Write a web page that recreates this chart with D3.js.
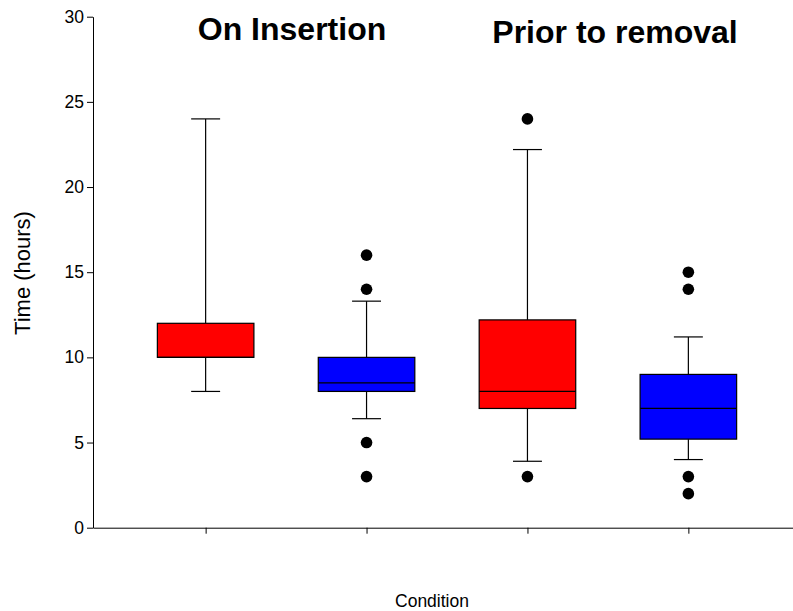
<!DOCTYPE html>
<html>
<head>
<meta charset="utf-8">
<script src="https://cdn.jsdelivr.net/npm/d3@7"></script>
<style>
  body { margin: 0; background: #fff; }
  svg { display: block; font-family: "Liberation Sans", Arial, sans-serif; }
</style>
</head>
<body>
<svg id="chart" width="793" height="611"></svg>
<script>
// ---- data ----
const categories = ["Insertion-red", "Insertion-blue", "Removal-red", "Removal-blue"];
const positions = [1, 2, 3, 4];
const q1 = [10, 8, 7, 5.2];
const medians = [10, 8.5, 8, 7];
const q3 = [12, 10, 12.2, 9];
const whiskerLow = [8, 6.4, 3.9, 4];
const whiskerHigh = [24, 13.3, 22.2, 11.2];
const outliers = [[], [16, 14, 5, 3], [24, 3], [15, 14, 3, 2]];
const colors = ["#ff0000", "#0000ff", "#ff0000", "#0000ff"];
const yTicks = [0, 5, 10, 15, 20, 25, 30];
const groupTitles = ["On Insertion", "Prior to removal"];

// ---- scales ----
const svg = d3.select("#chart");
const x = d3.scaleLinear().domain([0.3, 4.7]).range([93, 801]);
const y = d3.scaleLinear().domain([0, 30]).range([527.7, 16.7]);
const boxW = x(0.6) - x(0);
const capW = x(0.18) - x(0);

// axes
const yAxis = d3.axisLeft(y).tickValues(yTicks).tickSize(6).tickPadding(3).tickSizeOuter(0);
const gy = svg.append("g").attr("transform", "translate(93,0)").call(yAxis);
gy.selectAll("text").attr("font-size", 17.5).attr("fill", "#000").attr("font-family", "Liberation Sans, Arial, sans-serif");
gy.selectAll("line,path").attr("stroke", "#000");

const xAxis = d3.axisBottom(x).tickValues(positions).tickFormat("").tickSize(6).tickSizeOuter(0);
const gx = svg.append("g").attr("transform", "translate(0,527.7)").call(xAxis);
gx.selectAll("line,path").attr("stroke", "#000");

// boxes
const data = categories.map((c, i) => ({
  c, pos: positions[i], q1: q1[i], med: medians[i], q3: q3[i],
  lo: whiskerLow[i], hi: whiskerHigh[i], out: outliers[i], color: colors[i]
}));

const g = svg.append("g");
data.forEach(d => {
  const cx = x(d.pos);
  // whiskers
  g.append("line").attr("x1", cx).attr("x2", cx).attr("y1", y(d.q3)).attr("y2", y(d.hi))
    .attr("stroke", "#000").attr("stroke-width", 1.2);
  g.append("line").attr("x1", cx).attr("x2", cx).attr("y1", y(d.q1)).attr("y2", y(d.lo))
    .attr("stroke", "#000").attr("stroke-width", 1.2);
  g.append("line").attr("x1", cx - capW / 2).attr("x2", cx + capW / 2).attr("y1", y(d.hi)).attr("y2", y(d.hi))
    .attr("stroke", "#000").attr("stroke-width", 1.2);
  g.append("line").attr("x1", cx - capW / 2).attr("x2", cx + capW / 2).attr("y1", y(d.lo)).attr("y2", y(d.lo))
    .attr("stroke", "#000").attr("stroke-width", 1.2);
  // box
  g.append("rect").attr("x", cx - boxW / 2).attr("y", y(d.q3))
    .attr("width", boxW).attr("height", y(d.q1) - y(d.q3))
    .attr("fill", d.color).attr("stroke", "#000").attr("stroke-width", 1.2);
  // median
  g.append("line").attr("x1", cx - boxW / 2).attr("x2", cx + boxW / 2).attr("y1", y(d.med)).attr("y2", y(d.med))
    .attr("stroke", "#000").attr("stroke-width", 1.2);
  // outliers
  d.out.forEach(v => {
    g.append("circle").attr("cx", cx).attr("cy", y(v)).attr("r", 5.8).attr("fill", "#000");
  });
});

// titles
svg.append("text").attr("x", 292).attr("y", 40).attr("text-anchor", "middle")
  .attr("font-size", 32).attr("font-weight", "bold").text(groupTitles[0]);
svg.append("text").attr("x", 615).attr("y", 43).attr("text-anchor", "middle")
  .attr("font-size", 32).attr("font-weight", "bold").text(groupTitles[1]);

// axis labels
svg.append("text").attr("transform", "translate(30,273) rotate(-90)").attr("text-anchor", "middle")
  .attr("font-size", 22).text("Time (hours)");
svg.append("text").attr("x", 432).attr("y", 607).attr("text-anchor", "middle")
  .attr("font-size", 17.5).text("Condition");
</script>
</body>
</html>
